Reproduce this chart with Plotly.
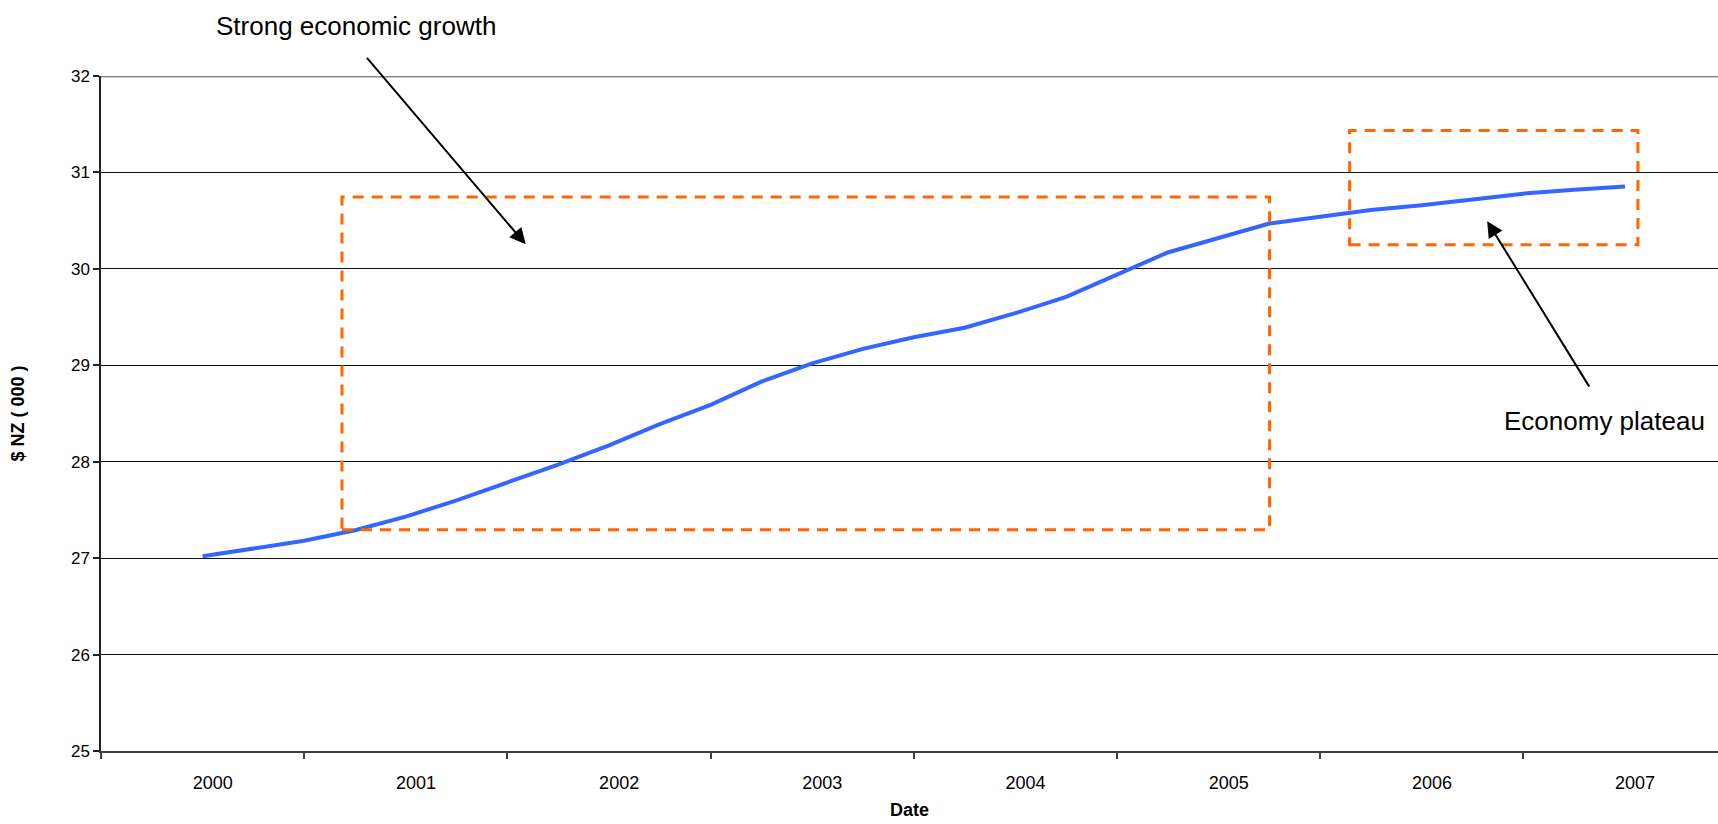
import plotly.graph_objects as go

# ---- data ----
year_labels = ["2000", "2001", "2002", "2003", "2004", "2005", "2006", "2007"]

quarters = [
    "2000 Q1", "2000 Q2", "2000 Q3", "2000 Q4",
    "2001 Q1", "2001 Q2", "2001 Q3", "2001 Q4",
    "2002 Q1", "2002 Q2", "2002 Q3", "2002 Q4",
    "2003 Q1", "2003 Q2", "2003 Q3", "2003 Q4",
    "2004 Q1", "2004 Q2", "2004 Q3", "2004 Q4",
    "2005 Q1", "2005 Q2", "2005 Q3", "2005 Q4",
    "2006 Q1", "2006 Q2", "2006 Q3", "2006 Q4",
    "2007 Q1",
]

income_nz_000 = [
    27.02, 27.10, 27.18, 27.29,
    27.43, 27.60, 27.78, 27.97,
    28.17, 28.39, 28.59, 28.83,
    29.02, 29.17, 29.29, 29.39,
    29.54, 29.71, 29.94, 30.17,
    30.32, 30.47, 30.54, 30.61,
    30.66, 30.72, 30.78, 30.82,
    30.855,
]

# highlighted regions (category-axis units, value units)
growth_box = dict(x0=1.186, x1=5.751, y0=27.295, y1=30.744)
plateau_box = dict(x0=6.145, x1=7.564, y0=30.25, y1=31.436)


def cat_pos(q):
    yr, qq = q.split(" Q")
    return year_labels.index(yr) + 0.5 + (int(qq) - 1) / 4.0


x_pos = [cat_pos(q) for q in quarters]

FONT = "Liberation Sans, Arial, sans-serif"
ORANGE = "#FF6600"

fig = go.Figure()
fig.add_trace(go.Scatter(
    x=x_pos, y=income_nz_000, mode="lines",
    line=dict(color="#3366FF", width=4),
    hoverinfo="skip",
))

shapes = []
for b in (growth_box, plateau_box):
    shapes.append(dict(
        type="rect", xref="x", yref="y",
        x0=b["x0"], x1=b["x1"], y0=b["y0"], y1=b["y1"],
        line=dict(color=ORANGE, width=3, dash="11px,8px"),
        fillcolor="rgba(0,0,0,0)", layer="above",
    ))
# grey top border line at 32
shapes.append(dict(type="line", xref="paper", yref="y", x0=0, x1=1, y0=32, y1=32,
                   line=dict(color="#8a8a8a", width=3), layer="above"))

annotations = [
    dict(x=1.257, y=1.0743, xref="x", yref="paper", text="Strong economic growth",
         xanchor="center", yanchor="middle",
         showarrow=False, font=dict(size=26, family=FONT, color="black")),
    dict(x=7.40, y=28.423, xref="x", yref="y", text="Economy plateau",
         xanchor="center", yanchor="middle",
         showarrow=False, font=dict(size=26, family=FONT, color="black")),
    dict(x=2.09, y=30.254, xref="x", yref="y", text="", showarrow=True,
         ax=-160, ay=-188, arrowhead=2, arrowsize=1.6, arrowwidth=2,
         arrowcolor="black"),
    dict(x=6.822, y=30.495, xref="x", yref="y", text="", showarrow=True,
         ax=103, ay=167, arrowhead=2, arrowsize=1.6, arrowwidth=2,
         arrowcolor="black"),
]

fig.update_layout(
    width=1718, height=824,
    margin=dict(l=101, r=0, t=76, b=73),
    plot_bgcolor="white", paper_bgcolor="white",
    showlegend=False,
    font=dict(family=FONT, color="black"),
    shapes=shapes,
    annotations=annotations,
    xaxis=dict(
        range=[0, 7.958],
        tickmode="array",
        tickvals=[i + 0.55 for i in range(len(year_labels))],
        ticktext=year_labels,
        ticks="",
        ticklabelstandoff=14,
        tickfont=dict(size=18, family=FONT, color="black"),
        showline=True, linecolor="#404040", linewidth=2,
        showgrid=False, zeroline=False,
        minor=dict(tickvals=list(range(len(year_labels))), ticks="outside",
                   ticklen=6, tickwidth=1.5, tickcolor="#404040", showgrid=False),
        title=dict(text="<b>Date</b>", font=dict(size=18, family=FONT, color="black"),
                   standoff=12),
    ),
    yaxis=dict(
        range=[25, 32], tick0=0, dtick=1,
        ticks="outside", ticklen=6, tickwidth=1.5, tickcolor="#222222",
        tickfont=dict(size=17, family=FONT, color="black"),
        showline=True, linecolor="#222222", linewidth=1.5,
        showgrid=True, gridcolor="#111111", gridwidth=1,
        zeroline=False,
        title=dict(text="<b>$ NZ ( 000 )</b>", font=dict(size=18, family=FONT, color="black"),
                   standoff=42),
    ),
)

fig.write_html("out.html")
